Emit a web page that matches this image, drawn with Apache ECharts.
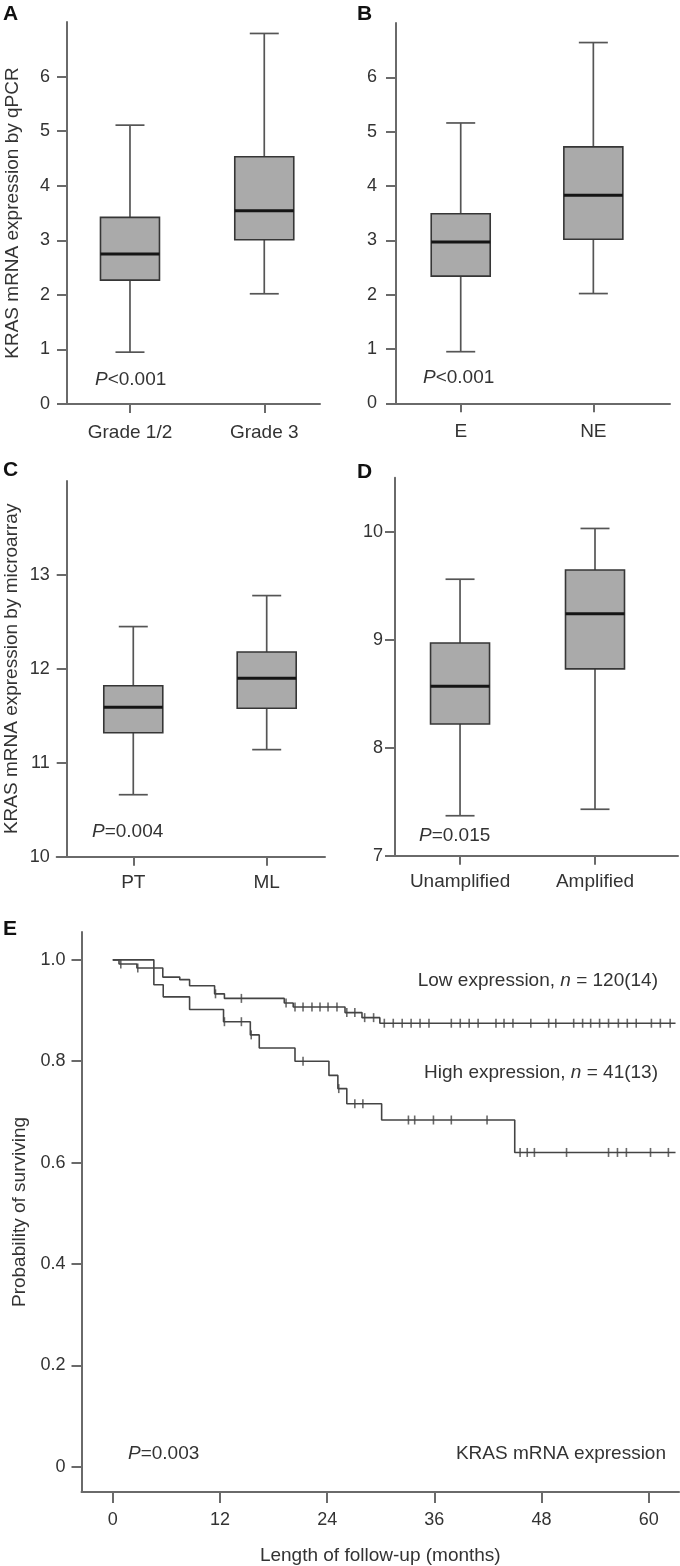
<!DOCTYPE html>
<html><head><meta charset="utf-8">
<script src="https://cdn.jsdelivr.net/npm/echarts@6/dist/echarts.min.js"></script>
<style>html,body{margin:0;padding:0;background:#fff}#c{width:680px;height:1566px}</style>
</head><body><div id="c"></div>
<script>
// ---------- data ----------
// box stats: [position, min, Q1, median, Q3, max]
const catsA = ['Grade 1/2', 'Grade 3'];
const boxA = [[0, 0.95, 2.27, 2.75, 3.42, 5.11], [1, 2.02, 3.01, 3.54, 4.53, 6.79]];
const catsB = ['E', 'NE'];
const boxB = [[0, 0.95, 2.34, 2.97, 3.49, 5.16], [1, 2.02, 3.02, 3.83, 4.72, 6.64]];
const catsC = ['PT', 'ML'];
const boxC = [[0, 10.66, 11.32, 11.59, 11.82, 12.45], [1, 11.14, 11.58, 11.90, 12.18, 12.78]];
const catsD = ['Unamplified', 'Amplified'];
const boxD = [[0, 7.37, 8.22, 8.57, 8.97, 9.56], [1, 7.43, 8.73, 9.24, 9.645, 10.03]];
const ticksA = [0, 1, 2, 3, 4, 5, 6];
const ticksC = [10, 11, 12, 13];
const ticksD = [7, 8, 9, 10];
const ticksEy = [0, 0.2, 0.4, 0.6, 0.8, 1.0];
const ticksEx = [0, 12, 24, 36, 48, 60];
// Kaplan-Meier steps [month, survival]
const kmLow = [[0, 1], [0.7, 0.992], [2.7, 0.984], [5.6, 0.966], [7.5, 0.961], [8.6, 0.949], [11.4, 0.933],
  [12.5, 0.924], [19.2, 0.915], [20.2, 0.907], [26.0, 0.896], [27.9, 0.886], [29.9, 0.875], [63.0, 0.875]];
const kmHigh = [[0, 1], [4.6, 0.951], [5.65, 0.927], [8.6, 0.902], [12.4, 0.878], [15.4, 0.852], [16.4, 0.826],
  [20.4, 0.800], [24.2, 0.772], [25.2, 0.746], [26.2, 0.716], [30.1, 0.684], [45.0, 0.620], [63.0, 0.620]];
const censLow = [0.9, 2.8, 11.5, 14.4, 19.4, 20.4, 21.3, 22.3, 23.2, 24.1, 25.1, 26.2, 27.1, 28.2, 29.2,
  30.4, 31.4, 32.4, 33.4, 34.4, 35.4, 37.9, 38.9, 39.9, 40.9, 42.9, 43.8, 44.8, 46.8, 48.8, 49.6,
  51.6, 52.6, 53.5, 54.5, 55.5, 56.6, 57.6, 58.6, 60.3, 61.3, 62.4];
const censHigh = [12.5, 14.4, 15.5, 21.3, 25.3, 27.1, 28.0, 33.1, 33.8, 35.9, 37.9, 41.9,
  45.6, 46.4, 47.2, 50.8, 55.5, 56.5, 57.5, 60.2, 62.2];

// ---------- style ----------
const FONT = 'Liberation Sans, Arial, Helvetica, sans-serif';
const TXT = '#333';
const AX = '#6a6a6a';
const BOX_W = 59, CAP_W = 29;

function survAt(steps, t) {
  let v = steps[0][1];
  for (const s of steps) { if (s[0] <= t) v = s[1]; }
  return v;
}

function boxRender(params, api) {
  const x = api.value(0);
  const pMin = api.coord([x, api.value(1)]);
  const pQ1 = api.coord([x, api.value(2)]);
  const pMed = api.coord([x, api.value(3)]);
  const pQ3 = api.coord([x, api.value(4)]);
  const pMax = api.coord([x, api.value(5)]);
  const cx = pMin[0];
  const wl = { stroke: '#555', lineWidth: 1.7 };
  return {
    type: 'group', children: [
      { type: 'line', shape: { x1: cx, y1: pMax[1], x2: cx, y2: pQ3[1] }, style: wl },
      { type: 'line', shape: { x1: cx, y1: pQ1[1], x2: cx, y2: pMin[1] }, style: wl },
      { type: 'line', shape: { x1: cx - CAP_W / 2, y1: pMax[1], x2: cx + CAP_W / 2, y2: pMax[1] }, style: wl },
      { type: 'line', shape: { x1: cx - CAP_W / 2, y1: pMin[1], x2: cx + CAP_W / 2, y2: pMin[1] }, style: wl },
      { type: 'rect', shape: { x: cx - BOX_W / 2, y: pQ3[1], width: BOX_W, height: pQ1[1] - pQ3[1] },
        style: { fill: '#aaaaaa', stroke: '#363636', lineWidth: 1.6 } },
      { type: 'line', shape: { x1: cx - BOX_W / 2, y1: pMed[1], x2: cx + BOX_W / 2, y2: pMed[1] },
        style: { stroke: '#151515', lineWidth: 3 } }
    ]
  };
}

function xCat(idx, cats, min, max, margin) {
  return {
    type: 'value', gridIndex: idx, min: min, max: max,
    axisLine: { onZero: false, lineStyle: { color: AX, width: 2 } },
    axisTick: { length: 9, customValues: [0, 1], lineStyle: { color: AX, width: 2 } },
    axisLabel: { customValues: [0, 1], formatter: v => cats[Math.round(v)], color: TXT, fontSize: 19, fontFamily: FONT, margin: margin },
    splitLine: { show: false }
  };
}
function yVal(idx, min, max, ticks, offset, margin, name, fmt) {
  return {
    type: 'value', gridIndex: idx, min: min, max: max, offset: offset,
    name: name || '', nameLocation: 'middle', nameGap: 45,
    nameTextStyle: { color: TXT, fontSize: 19, fontFamily: FONT },
    axisLine: { onZero: false, lineStyle: { color: AX, width: 2 } },
    axisTick: { length: 10, customValues: ticks, lineStyle: { color: AX, width: 2 } },
    axisLabel: { customValues: ticks, color: TXT, fontSize: 18, fontFamily: FONT, margin: margin, formatter: fmt },
    splitLine: { show: false }
  };
}

const grids = [
  { left: 58, top: 22, width: 262, height: 382 },
  { left: 387.7, top: 23, width: 282.3, height: 380.3 },
  { left: 56.7, top: 481, width: 268.3, height: 375.7 },
  { left: 387.7, top: 477.7, width: 290.3, height: 378 },
  { left: 81.5, top: 932, width: 597.6, height: 565.2 }
];

function ptext(x, y, pre, rest, align) {
  return {
    type: 'text', x: x, y: y,
    style: {
      text: pre + rest, fill: TXT, font: '19px ' + FONT, align: align || 'left', verticalAlign: 'middle',
      rich: { i: { fontStyle: 'italic', fontSize: 19, fontFamily: FONT, fill: TXT }, n: { fontSize: 19, fontFamily: FONT, fill: TXT } }
    }
  };
}
function letter(x, y, t) {
  return { type: 'text', x: x, y: y, style: { text: t, fill: '#111', font: 'bold 21px ' + FONT, verticalAlign: 'middle' } };
}

const option = {
  animation: false,
  backgroundColor: '#fff',
  grid: grids,
  xAxis: [
    xCat(0, catsA, -0.536, 1.415, 19),
    xCat(1, catsB, -0.5505, 1.578, 19),
    xCat(2, catsC, -0.574, 1.437, 17),
    xCat(3, catsD, -0.536, 1.615, 17),
    {
      type: 'value', gridIndex: 4, min: -3.5, max: 63.4,
      name: 'Length of follow-up (months)', nameLocation: 'middle', nameGap: 54,
      nameTextStyle: { color: TXT, fontSize: 19, fontFamily: FONT },
      axisLine: { onZero: false, lineStyle: { color: AX, width: 2 } },
      axisTick: { length: 11, customValues: ticksEx, lineStyle: { color: AX, width: 2 } },
      axisLabel: { customValues: ticksEx, color: TXT, fontSize: 18, fontFamily: FONT, margin: 19 },
      splitLine: { show: false }
    }
  ],
  yAxis: [
    yVal(0, 0, 7, ticksA, -9, 17, 'KRAS mRNA expression by qPCR'),
    yVal(1, 0, 7, ticksA, -8.3, 19),
    yVal(2, 10, 14, ticksC, -10, 17, 'KRAS mRNA expression by microarray'),
    yVal(3, 7, 10.5, ticksD, -7.3, 12),
    yVal(4, -0.05, 1.055, ticksEy, 0, 16, 'Probability of surviving', v => (v === 0 ? '0' : v.toFixed(1)))
  ],
  series: [
    { type: 'custom', xAxisIndex: 0, yAxisIndex: 0, renderItem: boxRender, data: boxA, encode: { x: 0, y: [1, 2, 3, 4, 5] } },
    { type: 'custom', xAxisIndex: 1, yAxisIndex: 1, renderItem: boxRender, data: boxB, encode: { x: 0, y: [1, 2, 3, 4, 5] } },
    { type: 'custom', xAxisIndex: 2, yAxisIndex: 2, renderItem: boxRender, data: boxC, encode: { x: 0, y: [1, 2, 3, 4, 5] } },
    { type: 'custom', xAxisIndex: 3, yAxisIndex: 3, renderItem: boxRender, data: boxD, encode: { x: 0, y: [1, 2, 3, 4, 5] } },
    { type: 'line', xAxisIndex: 4, yAxisIndex: 4, step: 'end', data: kmLow, showSymbol: false, symbol: 'none',
      lineStyle: { color: '#444', width: 1.6 } },
    { type: 'line', xAxisIndex: 4, yAxisIndex: 4, step: 'end', data: kmHigh, showSymbol: false, symbol: 'none',
      lineStyle: { color: '#444', width: 1.6 } },
    { type: 'scatter', xAxisIndex: 4, yAxisIndex: 4, data: censLow.map(t => [t, survAt(kmLow, t)]),
      symbol: 'rect', symbolSize: [1.6, 9], itemStyle: { color: '#444' } },
    { type: 'scatter', xAxisIndex: 4, yAxisIndex: 4, data: censHigh.map(t => [t, survAt(kmHigh, t)]),
      symbol: 'rect', symbolSize: [1.6, 9], itemStyle: { color: '#444' } }
  ],
  graphic: [
    letter(3, 14, 'A'), letter(357, 14, 'B'), letter(3, 470, 'C'), letter(357, 472, 'D'), letter(3, 929, 'E'),
    ptext(95, 380, '{i|P}', '{n|<0.001}'),
    ptext(423, 378, '{i|P}', '{n|<0.001}'),
    ptext(92, 832, '{i|P}', '{n|=0.004}'),
    ptext(419, 836, '{i|P}', '{n|=0.015}'),
    ptext(128, 1454, '{i|P}', '{n|=0.003}'),
    ptext(658, 981, '{n|Low expression, }', '{i|n}{n| = 120(14)}', 'right'),
    ptext(658, 1073, '{n|High expression, }', '{i|n}{n| = 41(13)}', 'right'),
    ptext(666, 1454, '', '{n|KRAS mRNA expression}', 'right')
  ]
};
echarts.init(document.getElementById('c'), null, { renderer: 'canvas' }).setOption(option);
</script></body></html>
